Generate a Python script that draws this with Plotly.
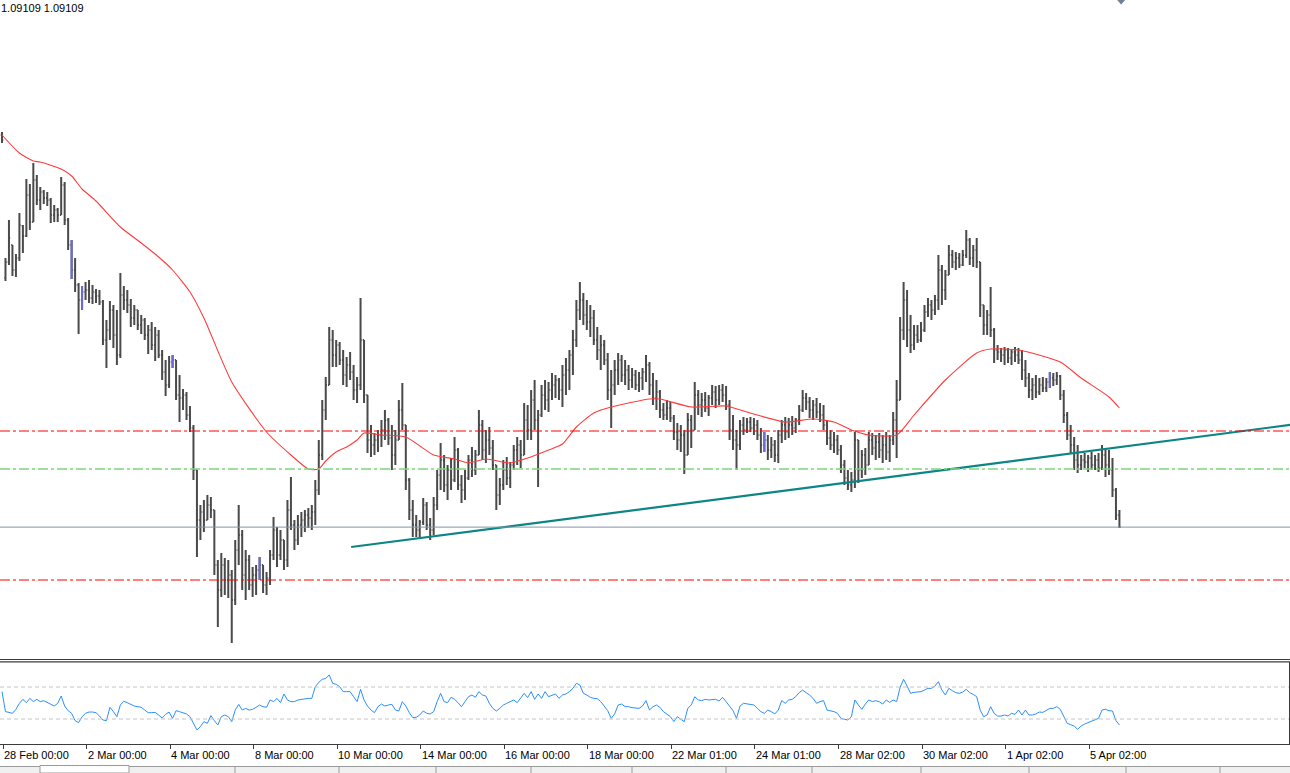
import plotly.graph_objects as go

W, H = 1290, 773

# ---------------- data (EURUSD, 2-hour bars) ----------------
open_ = [
1.1303,1.1160,1.1176,1.1193,1.1168,1.1180,1.1212,1.1202,1.1243,1.1216,
1.1258,1.1238,1.1246,1.1240,1.1238,1.1223,1.1228,1.1223,1.1253,1.1218,
1.1193,1.1168,1.1153,1.1138,1.1146,1.1148,1.1140,1.1146,1.1142,1.1136,
1.1098,1.1108,1.1128,1.1103,1.1083,1.1143,1.1138,1.1133,1.1120,1.1128,
1.1113,1.1118,1.1103,1.1108,1.1093,1.1103,1.1083,1.1066,1.1053,1.1076,
1.1078,1.1043,1.1040,1.1043,1.1023,1.1010,1.0968,1.0918,1.0926,1.0918,
1.0933,1.0928,1.0873,1.0848,1.0873,1.0858,1.0863,1.0838,1.0888,1.0903,
1.0863,1.0878,1.0853,1.0863,1.0868,1.0873,1.0853,1.0860,1.0883,1.0908,
1.0883,1.0898,1.0878,1.0928,1.0913,1.0898,1.0913,1.0918,1.0923,1.0920,
1.0926,1.0948,1.0983,1.1028,1.1053,1.1098,1.1083,1.1093,1.1078,1.1063,
1.1073,1.1066,1.1048,1.1053,1.1098,1.1043,1.0998,1.0993,1.0998,1.1003,
1.1008,1.1018,1.1000,1.0983,1.0998,1.1028,1.1013,1.0958,1.0928,1.0913,
1.0908,1.0916,1.0933,1.0913,1.0908,1.0933,1.0963,1.0978,1.0953,1.0968,
1.0958,1.0988,1.0953,1.0948,1.0960,1.0978,1.0968,1.0983,1.1013,1.0988,
1.0998,1.0990,1.0973,1.0943,1.0953,1.0968,1.0960,1.0973,1.0988,1.0993,
1.0983,1.1018,1.1008,1.1038,1.1018,1.1023,1.1043,1.1038,1.1048,1.1053,
1.1058,1.1048,1.1063,1.1068,1.1083,1.1098,1.1128,1.1138,1.1123,1.1116,
1.1120,1.1098,1.1088,1.1093,1.1078,1.1048,1.1053,1.1068,1.1078,1.1063,
1.1068,1.1058,1.1063,1.1053,1.1060,1.1066,1.1073,1.1053,1.1040,1.1046,
1.1028,1.1023,1.1030,1.1020,1.1006,1.0998,1.1003,1.0983,1.1018,1.1008,
1.1043,1.1033,1.1038,1.1030,1.1040,1.1046,1.1038,1.1048,1.1043,1.1033,
1.1008,1.0998,1.0993,1.1013,1.1008,1.1016,1.1010,1.1013,1.1003,1.0993,
1.0998,1.0988,1.0993,1.0983,1.1003,1.1013,1.1006,1.1013,1.1010,1.1018,
1.1028,1.1040,1.1036,1.1028,1.1033,1.1026,1.1023,1.1013,1.1000,1.0993,
1.0998,1.0988,1.0973,1.0960,1.0953,1.0958,1.0998,1.0968,1.0983,1.0973,
1.0998,1.0990,1.0996,1.0988,1.0993,1.0986,1.0998,1.1018,1.1038,1.1108,
1.1138,1.1108,1.1093,1.1103,1.1098,1.1108,1.1126,1.1133,1.1128,1.1138,
1.1168,1.1148,1.1163,1.1183,1.1176,1.1180,1.1173,1.1183,1.1198,1.1180,
1.1188,1.1176,1.1133,1.1113,1.1123,1.1108,1.1088,1.1086,1.1083,1.1088,
1.1080,1.1086,1.1083,1.1078,1.1068,1.1060,1.1048,1.1053,1.1046,1.1053,
1.1050,1.1056,1.1060,1.1058,1.1062,1.1043,1.1023,1.1003,1.0993,1.0978,
1.0973,1.0978,1.0976,1.0980,1.0973,1.0978,1.0970,1.0983,1.0973,1.0968,
1.0948,1.0923]

high = [
1.1306,1.1180,1.1218,1.1193,1.1184,1.1225,1.1213,1.1259,1.1254,1.1275,
1.1263,1.1251,1.1248,1.1246,1.1240,1.1233,1.1230,1.1261,1.1256,1.1220,
1.1198,1.1180,1.1155,1.1152,1.1156,1.1158,1.1153,1.1149,1.1148,1.1138,
1.1118,1.1137,1.1133,1.1128,1.1165,1.1152,1.1148,1.1139,1.1133,1.1128,
1.1123,1.1120,1.1113,1.1116,1.1111,1.1108,1.1088,1.1078,1.1082,1.1083,
1.1078,1.1063,1.1049,1.1046,1.1032,1.1013,1.0968,1.0933,1.0938,1.0943,
1.0941,1.0928,1.0878,1.0885,1.0880,1.0878,1.0868,1.0898,1.0933,1.0908,
1.0888,1.0883,1.0871,1.0873,1.0881,1.0873,1.0866,1.0888,1.0921,1.0911,
1.0908,1.0898,1.0938,1.0961,1.0918,1.0923,1.0926,1.0928,1.0930,1.0933,
1.0958,1.0998,1.1038,1.1061,1.1111,1.1108,1.1098,1.1096,1.1088,1.1081,
1.1086,1.1073,1.1061,1.1140,1.1098,1.1043,1.1013,1.1005,1.1008,1.1018,
1.1028,1.1020,1.1013,1.1008,1.1038,1.1055,1.1013,1.0960,1.0938,1.0923,
1.0918,1.0940,1.0936,1.0920,1.0941,1.0968,1.0995,1.0983,1.0973,1.0980,
1.1001,1.0990,1.0963,1.0968,1.0983,1.0991,1.0988,1.1028,1.1018,1.1008,
1.1011,1.0998,1.0973,1.0960,1.0978,1.0981,1.0976,1.0993,1.1001,1.0998,
1.1035,1.1033,1.1048,1.1058,1.1028,1.1053,1.1058,1.1056,1.1065,1.1063,
1.1060,1.1073,1.1080,1.1088,1.1108,1.1138,1.1156,1.1145,1.1138,1.1133,
1.1128,1.1111,1.1103,1.1098,1.1085,1.1068,1.1078,1.1085,1.1083,1.1078,
1.1073,1.1070,1.1068,1.1066,1.1070,1.1083,1.1076,1.1065,1.1058,1.1048,
1.1035,1.1038,1.1036,1.1023,1.1015,1.1013,1.1008,1.1025,1.1023,1.1056,
1.1048,1.1045,1.1046,1.1043,1.1053,1.1052,1.1053,1.1054,1.1052,1.1038,
1.1023,1.1008,1.1018,1.1021,1.1020,1.1021,1.1020,1.1018,1.1010,1.1006,
1.1003,1.1001,1.0998,1.1008,1.1018,1.1021,1.1020,1.1022,1.1020,1.1033,
1.1048,1.1045,1.1041,1.1038,1.1040,1.1035,1.1033,1.1018,1.1008,1.1006,
1.1003,1.0993,1.0978,1.0968,1.0966,1.1006,1.0998,1.0988,1.0990,1.1006,
1.1005,1.1003,1.1005,1.1003,1.1006,1.1003,1.1026,1.1058,1.1121,1.1156,
1.1148,1.1123,1.1113,1.1113,1.1116,1.1133,1.1140,1.1138,1.1143,1.1183,
1.1173,1.1168,1.1193,1.1188,1.1186,1.1185,1.1188,1.1208,1.1200,1.1193,
1.1200,1.1176,1.1133,1.1128,1.1151,1.1110,1.1093,1.1090,1.1091,1.1090,
1.1088,1.1091,1.1090,1.1088,1.1078,1.1065,1.1060,1.1063,1.1060,1.1061,
1.1060,1.1066,1.1065,1.1066,1.1063,1.1048,1.1026,1.1013,1.1001,1.0993,
1.0983,1.0985,1.0983,1.0986,1.0983,1.0985,1.0993,1.0990,1.0988,1.0980,
1.0950,1.0928]

low = [
1.1295,1.1157,1.1173,1.1162,1.1161,1.1177,1.1185,1.1201,1.1208,1.1216,
1.1233,1.1228,1.1234,1.1232,1.1215,1.1216,1.1216,1.1223,1.1213,1.1188,
1.1159,1.1146,1.1104,1.1128,1.1138,1.1135,1.1134,1.1135,1.1133,1.1093,
1.1070,1.1098,1.1090,1.1073,1.1080,1.1128,1.1125,1.1111,1.1113,1.1108,
1.1104,1.1098,1.1084,1.1088,1.1077,1.1080,1.1058,1.1042,1.1050,1.1070,
1.1038,1.1016,1.1028,1.1018,1.1006,1.0958,1.0881,1.0898,1.0906,1.0918,
1.0920,1.0863,1.0811,1.0841,1.0843,1.0840,1.0795,1.0833,1.0873,1.0848,
1.0838,1.0848,1.0841,1.0843,1.0858,1.0845,1.0843,1.0853,1.0878,1.0871,
1.0878,1.0868,1.0871,1.0908,1.0888,1.0893,1.0901,1.0906,1.0910,1.0908,
1.0913,1.0943,1.0978,1.1018,1.1053,1.1071,1.1071,1.1073,1.1053,1.1051,
1.1058,1.1038,1.1035,1.1048,1.1035,1.0985,1.0981,1.0983,1.0986,1.0991,
1.0998,1.0993,1.0968,1.0973,1.0998,1.1008,1.0948,1.0918,1.0901,1.0901,
1.0900,1.0913,1.0908,1.0898,1.0903,1.0928,1.0948,1.0946,1.0938,1.0948,
1.0956,1.0948,1.0935,1.0938,1.0958,1.0961,1.0963,1.0983,1.0978,1.0975,
1.0983,1.0968,1.0928,1.0933,1.0948,1.0953,1.0950,1.0968,1.0973,1.0970,
1.0983,1.0998,1.0998,1.1008,1.0951,1.1021,1.1028,1.1026,1.1038,1.1040,
1.1038,1.1031,1.1043,1.1048,1.1063,1.1091,1.1118,1.1113,1.1108,1.1101,
1.1093,1.1078,1.1068,1.1073,1.1038,1.1010,1.1043,1.1053,1.1056,1.1053,
1.1048,1.1050,1.1048,1.1046,1.1048,1.1056,1.1043,1.1033,1.1028,1.1020,
1.1018,1.1018,1.1016,1.0998,1.0988,1.0986,1.0964,1.0983,1.0990,1.1008,
1.1023,1.1021,1.1026,1.1022,1.1033,1.1030,1.1033,1.1036,1.1028,1.0998,
1.0988,1.0968,1.0988,1.1003,1.1005,1.1006,1.1003,1.0998,1.0985,1.0986,
1.0978,1.0980,1.0976,1.0975,1.0995,1.0998,1.1000,1.1003,1.1005,1.1013,
1.1026,1.1028,1.1020,1.1018,1.1020,1.1016,1.1008,1.0993,1.0988,1.0985,
1.0983,1.0965,1.0953,1.0948,1.0946,1.0950,1.0955,1.0960,1.0963,1.0973,
1.0983,1.0978,1.0980,1.0975,1.0978,1.0976,1.0993,1.0980,1.1038,1.1098,
1.1091,1.1085,1.1088,1.1095,1.1096,1.1106,1.1121,1.1118,1.1123,1.1128,
1.1133,1.1138,1.1163,1.1170,1.1168,1.1170,1.1172,1.1180,1.1173,1.1171,
1.1170,1.1121,1.1103,1.1103,1.1101,1.1075,1.1078,1.1076,1.1073,1.1075,
1.1073,1.1076,1.1074,1.1058,1.1051,1.1040,1.1038,1.1040,1.1043,1.1046,
1.1046,1.1050,1.1052,1.1053,1.1038,1.1015,1.0998,1.0985,1.0968,1.0965,
1.0968,1.0970,1.0966,1.0968,1.0968,1.0966,1.0968,1.0961,1.0963,1.0941,
1.0918,1.0910]

close = [
1.1298,1.1176,1.1200,1.1168,1.1180,1.1213,1.1202,1.1243,1.1216,1.1258,
1.1238,1.1246,1.1240,1.1238,1.1223,1.1228,1.1223,1.1253,1.1218,1.1193,
1.1168,1.1153,1.1138,1.1146,1.1148,1.1140,1.1146,1.1142,1.1136,1.1098,
1.1108,1.1128,1.1103,1.1083,1.1143,1.1138,1.1133,1.1120,1.1128,1.1113,
1.1118,1.1103,1.1108,1.1093,1.1103,1.1083,1.1066,1.1053,1.1076,1.1078,
1.1043,1.1040,1.1043,1.1023,1.1010,1.0968,1.0918,1.0926,1.0918,1.0933,
1.0928,1.0873,1.0848,1.0873,1.0858,1.0863,1.0838,1.0888,1.0903,1.0863,
1.0878,1.0853,1.0863,1.0868,1.0873,1.0853,1.0860,1.0883,1.0908,1.0883,
1.0898,1.0878,1.0928,1.0913,1.0898,1.0913,1.0918,1.0923,1.0920,1.0926,
1.0948,1.0983,1.1028,1.1053,1.1098,1.1083,1.1093,1.1078,1.1063,1.1073,
1.1066,1.1048,1.1053,1.1098,1.1043,1.0998,1.0993,1.0998,1.1003,1.1008,
1.1018,1.1000,1.0983,1.0998,1.1028,1.1013,1.0958,1.0928,1.0913,1.0908,
1.0916,1.0933,1.0913,1.0908,1.0933,1.0963,1.0978,1.0953,1.0968,1.0958,
1.0988,1.0953,1.0948,1.0960,1.0978,1.0968,1.0983,1.1013,1.0988,1.0998,
1.0990,1.0973,1.0943,1.0953,1.0968,1.0960,1.0973,1.0988,1.0993,1.0983,
1.1018,1.1008,1.1038,1.1018,1.1023,1.1043,1.1038,1.1048,1.1053,1.1058,
1.1048,1.1063,1.1068,1.1083,1.1098,1.1128,1.1138,1.1123,1.1116,1.1120,
1.1098,1.1088,1.1093,1.1078,1.1048,1.1053,1.1068,1.1078,1.1063,1.1068,
1.1058,1.1063,1.1053,1.1060,1.1066,1.1073,1.1053,1.1040,1.1046,1.1028,
1.1023,1.1030,1.1020,1.1006,1.0998,1.1003,1.0983,1.1018,1.1008,1.1043,
1.1033,1.1038,1.1030,1.1040,1.1046,1.1038,1.1048,1.1043,1.1033,1.1008,
1.0998,1.0993,1.1013,1.1008,1.1016,1.1010,1.1013,1.1003,1.0993,1.0998,
1.0988,1.0993,1.0983,1.1003,1.1013,1.1006,1.1013,1.1010,1.1018,1.1028,
1.1040,1.1036,1.1028,1.1033,1.1026,1.1023,1.1013,1.1000,1.0993,1.0998,
1.0988,1.0973,1.0960,1.0953,1.0958,1.0998,1.0968,1.0983,1.0973,1.0998,
1.0990,1.0996,1.0988,1.0993,1.0986,1.0998,1.1018,1.1038,1.1108,1.1138,
1.1108,1.1093,1.1103,1.1098,1.1108,1.1126,1.1133,1.1128,1.1138,1.1168,
1.1148,1.1163,1.1183,1.1176,1.1180,1.1173,1.1183,1.1198,1.1180,1.1188,
1.1176,1.1133,1.1113,1.1123,1.1108,1.1088,1.1086,1.1083,1.1088,1.1080,
1.1086,1.1083,1.1078,1.1068,1.1060,1.1048,1.1053,1.1046,1.1053,1.1050,
1.1056,1.1060,1.1058,1.1062,1.1043,1.1023,1.1003,1.0993,1.0978,1.0973,
1.0978,1.0976,1.0980,1.0973,1.0978,1.0970,1.0983,1.0973,1.0968,1.0948,
1.0923,1.09109]

blue_bars = [20, 23, 49, 74, 219, 301]

# moving average (red) sampled at bar indices
ma_idx = [0, 5, 9, 11, 17, 20, 23, 27, 34, 40, 45, 49, 54, 58, 66, 76, 83, 88, 91, 93,
          96, 99, 102, 104, 109, 116, 124, 130, 134, 139, 146, 151, 157, 161, 165, 170,
          175, 186, 189, 198, 208, 214, 225, 233, 239, 244, 249, 257, 262, 271, 280, 284,
          292, 304, 310, 318, 321]
ma_val = [1.1303, 1.1285, 1.1277, 1.1276, 1.1269, 1.1262, 1.1249, 1.1237, 1.1211, 1.1195,
          1.1181, 1.1168, 1.1146, 1.1120, 1.1056, 1.1006, 1.0983, 1.0969, 1.0969, 1.0977,
          1.0986, 1.0991, 1.0998, 1.1005, 1.1003, 1.1001, 1.0983, 1.0979, 1.0975, 1.0979,
          1.0975, 1.0980, 1.0988, 1.0994, 1.1011, 1.1025, 1.1031, 1.1039, 1.1039, 1.1031,
          1.1032, 1.1026, 1.1016, 1.1019, 1.1016, 1.1008, 1.1003, 1.1003, 1.1023, 1.1058,
          1.1085, 1.1089, 1.1088, 1.1076, 1.1060, 1.1041, 1.1030]

# RSI per bar
rsi = [
64.2,39.2,38.3,37.1,42.1,49.6,54.6,50.4,55.8,51.7,
54.6,51.7,52.9,50.4,48.3,46.2,49.6,58.7,46.2,40.4,
37.1,27.9,25.4,32.9,37.1,38.7,38.7,37.9,33.7,28.8,
27.9,44.6,39.2,32.9,47.5,52.1,50.4,48.3,46.2,45.4,
44.6,41.2,37.9,37.9,38.3,35.0,31.2,35.8,38.7,30.8,
40.4,39.2,37.9,36.3,32.9,24.6,16.3,20.4,26.7,24.6,
34.2,27.9,22.5,32.9,35.0,32.9,26.7,41.2,48.3,41.2,
43.3,41.2,42.1,44.6,47.5,45.4,44.6,53.8,51.7,55.8,
50.4,61.3,53.8,51.7,51.7,53.8,54.6,55.0,55.8,55.8,
70.4,75.8,79.6,80.8,85.0,74.6,73.3,70.4,64.2,64.2,
64.2,57.9,51.7,67.1,53.8,46.2,41.2,37.9,45.4,48.7,
46.2,47.5,48.3,41.2,40.0,51.7,46.2,37.9,31.7,32.1,
35.0,40.0,37.1,36.3,39.2,51.7,62.1,51.7,50.4,57.1,
54.6,50.4,45.4,51.7,57.9,60.0,57.1,64.2,60.0,58.7,
49.6,43.3,40.0,43.3,47.5,49.6,51.7,53.8,50.4,55.8,
62.1,56.7,64.2,54.6,61.3,55.8,64.2,57.9,59.2,61.3,
55.8,60.0,61.3,64.2,68.3,74.6,72.5,62.1,60.0,57.1,
55.8,55.4,51.7,46.2,40.4,30.8,36.3,47.5,48.7,45.4,
45.4,44.2,43.3,43.3,46.2,53.0,41.2,45.4,47.5,44.6,
39.2,36.3,32.9,26.7,32.9,29.6,26.7,43.3,47.5,57.9,
53.8,53.0,54.6,53.8,54.2,54.6,52.5,57.1,51.7,46.2,
40.4,30.8,46.2,49.6,48.7,47.5,47.5,43.3,39.2,37.1,
41.2,39.2,36.3,41.2,53.0,49.6,53.8,54.6,57.9,62.9,
66.2,62.9,60.0,55.8,49.6,51.7,53.0,41.2,40.4,39.2,
37.1,30.8,29.6,28.8,32.9,53.8,47.5,42.1,48.7,53.8,
51.7,52.9,51.7,48.7,53.8,50.8,53.8,51.7,69.6,79.6,
71.2,62.1,63.3,64.2,64.2,66.2,68.3,68.3,71.2,76.7,
66.2,60.0,68.3,65.4,62.9,62.1,63.7,67.1,62.9,60.8,
57.9,41.2,32.9,35.0,45.4,37.1,33.7,33.7,35.0,33.7,
37.1,35.8,41.2,35.0,41.2,35.0,35.0,36.3,38.7,38.3,
40.4,43.3,43.3,45.4,42.1,32.9,24.6,22.9,21.2,17.1,
21.2,23.7,25.4,27.9,28.8,30.8,41.2,42.1,40.4,40.0,
27.9,22.5]
rsi_levels = [70, 30]

red_levels = [1.1007, 1.0858]
green_level = 1.0969
bid = close[-1]

trend_idx = [100.3, 372.0]
trend_val = [1.0891, 1.1014]

tick_labels = ["28 Feb 00:00", "2 Mar 00:00", "4 Mar 00:00", "8 Mar 00:00", "10 Mar 00:00",
               "14 Mar 00:00", "16 Mar 00:00", "18 Mar 00:00", "22 Mar 01:00", "24 Mar 01:00",
               "28 Mar 02:00", "30 Mar 02:00", "1 Apr 02:00", "5 Apr 02:00"]
bars_per_label = 24

# ---------------- figure ----------------
n = len(close)
xs = list(range(n))
tick_pos = [0.3 + bars_per_label * k for k in range(len(tick_labels))]

X_RANGE = [-0.575, 370.0]
MAIN_DOM = [1 - 658 / H, 1.0]
RSI_DOM = [1 - 744 / H, 1 - 662 / H]

def py(y):
    return 1 - y / H

def pxp(x):
    return x / W

BAR_COLOR = "#4a4a4a"
BAR_W = 2.0
fig = go.Figure()
fig.add_trace(go.Ohlc(
    x=xs, open=open_, high=high, low=low, close=close,
    increasing=dict(line=dict(color=BAR_COLOR, width=BAR_W)),
    decreasing=dict(line=dict(color=BAR_COLOR, width=BAR_W)),
    tickwidth=0.35, hoverinfo="skip", showlegend=False,
    xaxis="x", yaxis="y"))

bx = blue_bars
gaps = [b - a for a, b in zip(bx[:-1], bx[1:])]
fig.add_trace(go.Ohlc(
    x=bx, open=[open_[i] for i in bx], high=[high[i] for i in bx],
    low=[low[i] for i in bx], close=[close[i] for i in bx],
    increasing=dict(line=dict(color="#6a6ad8", width=BAR_W)),
    decreasing=dict(line=dict(color="#6a6ad8", width=BAR_W)),
    tickwidth=0.35 / min(gaps), hoverinfo="skip", showlegend=False,
    xaxis="x", yaxis="y"))

fig.add_trace(go.Scatter(
    x=ma_idx, y=ma_val, mode="lines",
    line=dict(color="#ff3c3c", width=1.1, shape="spline", smoothing=0.6),
    hoverinfo="skip", showlegend=False, xaxis="x", yaxis="y"))

fig.add_trace(go.Scatter(
    x=trend_idx, y=trend_val, mode="lines",
    line=dict(color="#0d8585", width=2.2),
    hoverinfo="skip", showlegend=False, xaxis="x", yaxis="y"))

fig.add_trace(go.Scatter(
    x=xs, y=rsi, mode="lines",
    line=dict(color="#2b8fff", width=1),
    hoverinfo="skip", showlegend=False, xaxis="x2", yaxis="y2"))

shapes = []
for lv in red_levels:
    shapes.append(dict(type="line", xref="paper", yref="y", x0=0, x1=1, y0=lv, y1=lv,
                       line=dict(color="#ff0000", width=1, dash="10px,3px,3px,3px")))
shapes.append(dict(type="line", xref="paper", yref="y", x0=0, x1=1, y0=green_level, y1=green_level,
                   line=dict(color="#7cd67c", width=1.4, dash="10px,3px,3px,3px")))
shapes.append(dict(type="line", xref="paper", yref="y", x0=0, x1=1, y0=bid, y1=bid,
                   line=dict(color="#8494a9", width=1)))
for lv in rsi_levels:
    shapes.append(dict(type="line", xref="paper", yref="y2", x0=0, x1=1, y0=lv, y1=lv,
                       line=dict(color="#c4c4c4", width=1, dash="4px,3px")))

# panel separators / frame
for yy in (659.5, 661.8):
    shapes.append(dict(type="line", xref="paper", yref="paper", x0=0, x1=1, y0=py(yy), y1=py(yy),
                       line=dict(color="#3c3c3c", width=1.2)))
shapes.append(dict(type="line", xref="paper", yref="paper", x0=pxp(1289.5), x1=pxp(1289.5),
                   y0=py(662), y1=py(744.5), line=dict(color="#3c3c3c", width=1)))

# bottom tab strip
shapes.append(dict(type="rect", xref="paper", yref="paper", x0=0, x1=1, y0=0, y1=py(766),
                   fillcolor="#f0f0f0", line=dict(width=0), layer="below"))
shapes.append(dict(type="line", xref="paper", yref="paper", x0=0, x1=1, y0=py(766.5), y1=py(766.5),
                   line=dict(color="#9a9a9a", width=1)))
shapes.append(dict(type="rect", xref="paper", yref="paper", x0=pxp(40), x1=pxp(129), y0=0, y1=py(765.5),
                   fillcolor="#ffffff", line=dict(color="#9a9a9a", width=1)))
for dx in [235, 339, 436, 531, 632, 726, 812, 921, 1029, 1126, 1220]:
    shapes.append(dict(type="line", xref="paper", yref="paper", x0=pxp(dx), x1=pxp(dx),
                       y0=0, y1=py(767), line=dict(color="#9a9a9a", width=1)))

# chart-shift marker at top
last = n - 1 + 0.5
shapes.append(dict(type="path", xref="x", yref="paper",
                   path=f"M {last-1.15},1 L {last+1.15},1 L {last},{py(4.5)} Z",
                   fillcolor="#6f7f95", line=dict(width=0)))

annotations = []
for pos, lab in zip(tick_pos, tick_labels):
    annotations.append(dict(x=pos, y=py(754.5), xref="x2", yref="paper", text=lab,
                            showarrow=False, xanchor="left", yanchor="middle", xshift=-1,
                            font=dict(family="Liberation Sans, Arial", size=11, color="#000000")))
annotations.append(dict(x=0, y=py(7.5), xref="paper", yref="paper",
                        text=f"{bid:.5f} {bid:.5f}", showarrow=False,
                        xanchor="left", yanchor="middle", xshift=-1,
                        font=dict(family="Liberation Sans, Arial", size=11, color="#000000")))

fig.update_layout(
    width=W, height=H,
    margin=dict(l=0, r=0, t=0, b=0),
    paper_bgcolor="#ffffff", plot_bgcolor="#ffffff",
    showlegend=False, hovermode=False,
    xaxis=dict(domain=[0, 1], range=X_RANGE, showgrid=False, zeroline=False,
               showticklabels=False, ticks="", rangeslider=dict(visible=False),
               anchor="y", fixedrange=True),
    xaxis2=dict(domain=[0, 1], range=X_RANGE, showgrid=False, zeroline=False,
                showticklabels=False, ticks="outside", ticklen=4, tickwidth=1,
                tickcolor="#3c3c3c", tickvals=tick_pos, showline=True,
                linecolor="#3c3c3c", linewidth=1, anchor="y2", matches="x"),
    yaxis=dict(domain=MAIN_DOM, range=[1.0780, 1.1438], showgrid=False, zeroline=False,
               showticklabels=False, ticks="", anchor="x"),
    yaxis2=dict(domain=RSI_DOM, range=[-1.25, 101.25], showgrid=False, zeroline=False,
                showticklabels=False, ticks="", anchor="x2"),
    shapes=shapes,
    annotations=annotations,
)

fig.write_html("out.html")
